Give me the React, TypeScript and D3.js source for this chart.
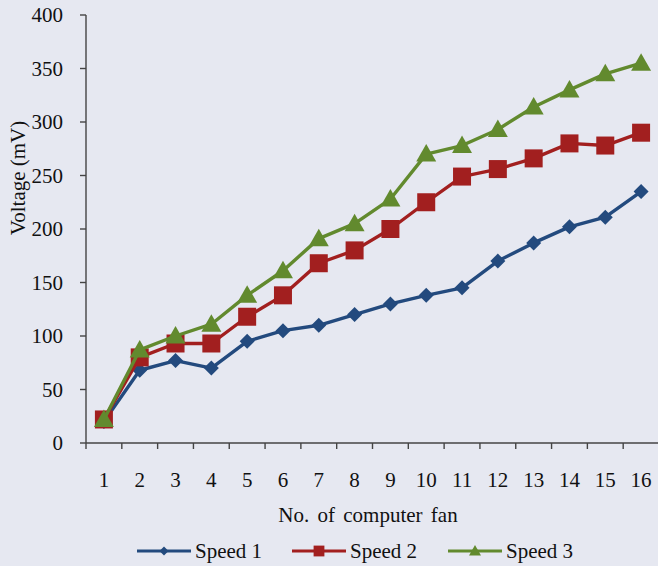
import React from "react";
import * as d3 from "d3";

const fans = [1, 2, 3, 4, 5, 6, 7, 8, 9, 10, 11, 12, 13, 14, 15, 16];
const speed1 = [20, 68, 77, 70, 95, 105, 110, 120, 130, 138, 145, 170, 187, 202, 211, 235];
const speed2 = [22, 80, 93, 93, 118, 138, 168, 180, 200, 225, 249, 256, 266, 280, 278, 290];
const speed3 = [22, 87, 100, 111, 138, 161, 191, 205, 228, 270, 278, 293, 314, 330, 345, 355];
const yTicks = [0, 50, 100, 150, 200, 250, 300, 350, 400];
const seriesNames = ["Speed 1", "Speed 2", "Speed 3"];

const W = 658, H = 566;
const M = { left: 86, right: 659, top: 15, bottom: 443 };
const font = "'Liberation Serif', 'Times New Roman', Times, serif";
const colors = ["#234a7e", "#a21f1f", "#628a2e"];

function Marker({ kind, x, y, color }: { kind: number; x: number; y: number; color: string }) {
  if (kind === 0) {
    const s = 7.5;
    return <path d={`M${x},${y - s}L${x + s},${y}L${x},${y + s}L${x - s},${y}Z`} fill={color} />;
  }
  if (kind === 1) {
    const s = 9;
    return <rect x={x - s} y={y - s} width={2 * s} height={2 * s} fill={color} />;
  }
  const s = 10;
  return <path d={`M${x},${y - s}L${x + s},${y + s * 0.75}L${x - s},${y + s * 0.75}Z`} fill={color} />;
}

export default function App() {
  const x = d3.scaleBand<number>().domain(fans).range([M.left, M.right]);
  const y = d3.scaleLinear().domain([0, 400]).range([M.bottom, M.top]);
  const cx = (f: number) => (x(f) as number) + x.bandwidth() / 2;
  const line = d3.line<number>().x((_, i) => cx(fans[i])).y((d) => y(d));
  const data = [speed1, speed2, speed3];
  const boundaries = fans.map((f) => x(f) as number);

  const legendX = [137, 292, 448];
  const legendY = 551;
  const legendLen = 54;

  return (
    <svg width={W} height={H} style={{ position: "absolute", left: 0, top: 0, background: "#e6e8f1" }}>
      <rect x={0} y={0} width={W} height={H} fill="#e6e8f1" />
      <line x1={M.left} x2={M.left} y1={M.top} y2={M.bottom} stroke="#444" strokeWidth={1.4} />
      <line x1={M.left} x2={M.right} y1={M.bottom} y2={M.bottom} stroke="#444" strokeWidth={1.4} />
      {yTicks.map((t) => (
        <g key={t}>
          <line x1={M.left - 6} x2={M.left} y1={y(t)} y2={y(t)} stroke="#444" strokeWidth={1.4} />
          <text x={63} y={y(t)} dy="0.35em" textAnchor="end" fontFamily={font} fontSize={21} fill="#111">
            {t}
          </text>
        </g>
      ))}
      {boundaries.map((b, i) => (
        <line key={i} x1={b} x2={b} y1={M.bottom} y2={M.bottom + 6} stroke="#444" strokeWidth={1.4} />
      ))}
      {fans.map((f) => (
        <text key={f} x={cx(f)} y={487} textAnchor="middle" fontFamily={font} fontSize={21} fill="#111">
          {f}
        </text>
      ))}
      <text x={368} y={522} textAnchor="middle" fontFamily={font} fontSize={21} fill="#111" wordSpacing={3}>
        No. of computer fan
      </text>
      <text
        transform={`translate(25,178) rotate(-90)`}
        textAnchor="middle"
        fontFamily={font}
        fontSize={21}
        fill="#111"
      >
        Voltage (mV)
      </text>
      {data.map((s, k) => (
        <g key={k}>
          <path d={line(s) || ""} fill="none" stroke={colors[k]} strokeWidth={3.4} strokeLinejoin="round" />
          {s.map((v, i) => (
            <Marker key={i} kind={k} x={cx(fans[i])} y={y(v)} color={colors[k]} />
          ))}
        </g>
      ))}
      {seriesNames.map((n, k) => (
        <g key={n}>
          <line x1={legendX[k]} x2={legendX[k] + legendLen} y1={legendY} y2={legendY} stroke={colors[k]} strokeWidth={3} />
          <g
            transform={`translate(${legendX[k] + legendLen / 2},${legendY}) scale(0.6) translate(${-(legendX[k] + legendLen / 2)},${-legendY})`}
          >
            <Marker kind={k} x={legendX[k] + legendLen / 2} y={legendY} color={colors[k]} />
          </g>
          <text x={legendX[k] + legendLen + 4} y={legendY} dy="0.35em" fontFamily={font} fontSize={21} fill="#111">
            {n}
          </text>
        </g>
      ))}
    </svg>
  );
}
